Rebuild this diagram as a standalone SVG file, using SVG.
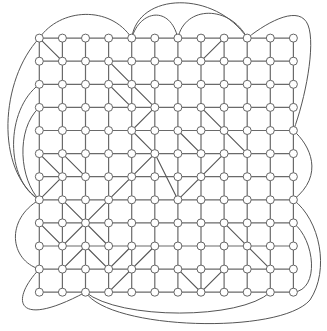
<svg xmlns="http://www.w3.org/2000/svg" width="327" height="331" viewBox="0 0 327 331">
<style>
.g{stroke:#6a6a6a;stroke-width:1.2;fill:none}
.d{stroke:#555;stroke-width:1.1;fill:none}
.c{stroke:#555;stroke-width:1;fill:none}
.n{fill:#fff;stroke:#666;stroke-width:1}
</style>
<rect width="327" height="331" fill="#fff"/>
<g id="connectors">
<g id="grid">
<path class="g" d="M39.3,38.1H293.4M39.3,61.2H293.4M39.3,84.3H293.4M39.3,107.4H293.4M39.3,130.5H293.4M39.3,153.6H293.4M39.3,176.7H293.4M39.3,199.8H293.4M39.3,222.9H293.4M39.3,246H293.4M39.3,269.1H293.4M39.3,292.2H293.4"/>
<path class="g" d="M39.3,38.1V292.2M62.4,38.1V292.2M85.5,38.1V292.2M108.6,38.1V292.2M131.7,38.1V292.2M154.8,38.1V292.2M177.9,38.1V292.2M201,38.1V292.2M224.1,38.1V292.2M247.2,38.1V292.2M270.3,38.1V292.2M293.4,38.1V292.2"/>
</g>
<g id="diagonals">
<path class="d" d="M39.3,38.1L62.4,61.2M108.6,61.2L154.8,107.4M108.6,84.3L131.7,107.4M154.8,107.4L131.7,130.5L154.8,153.6M201,61.2L224.1,38.1M201,107.4L247.2,153.6M177.9,130.5L201,153.6M224.1,153.6L177.9,199.8M154.8,153.6L177.9,199.8M154.8,153.6L85.5,222.9M39.3,153.6L62.4,176.7M62.4,153.6L85.5,176.7M62.4,176.7L39.3,199.8M62.4,199.8L85.5,222.9M39.3,222.9L62.4,246L85.5,222.9L108.6,246M85.5,246L62.4,269.1M85.5,246L108.6,269.1L131.7,246M154.8,246L108.6,292.2M224.1,222.9L270.3,269.1M177.9,269.1L201,292.2L224.1,269.1"/>
</g>
<g id="curves">
<path class="c" d="M39.3,38.1C60,8 110,5 131.7,38.1"/>
<path class="c" d="M131.7,38.1C138,-8 215,-10 247.2,38.1"/>
<path class="c" d="M131.7,38.1C140,10 170,5 177.9,38.1"/>
<path class="c" d="M177.9,38.1C185,5 230,5 247.2,38.1"/>
<path class="c" d="M247.2,38.1C270,20 300,5 308,25C316,45 305,100 293.4,130.5"/>
<path class="c" d="M293.4,130.5C310,145 325,175 293.4,199.8"/>
<path class="c" d="M293.4,222.9C315,240 320,290 293.4,292.2"/>
<path class="c" d="M85.5,292.2C120,320 240,320 270.3,292.2"/>
<path class="c" d="M85.5,292.2C110,330 280,335 310,300C330,270 320,220 293.4,199.8"/>
<path class="c" d="M39.3,38.1C0,80 -5,170 39.3,199.8"/>
<path class="c" d="M39.3,84.3C5,110 5,180 39.3,199.8"/>
<path class="c" d="M39.3,107.4C15,130 20,180 39.3,199.8"/>
<path class="c" d="M39.3,199.8C5,220 10,260 39.3,269.1"/>
<path class="c" d="M39.3,269.1C10,300 15,330 85.5,292.2"/>
</g>
</g>
<g id="nodes">
<g id="r0"><circle class="n" cx="39.3" cy="38.1" r="4"/><circle class="n" cx="62.4" cy="38.1" r="4"/><circle class="n" cx="85.5" cy="38.1" r="4"/><circle class="n" cx="108.6" cy="38.1" r="4"/><circle class="n" cx="131.7" cy="38.1" r="4"/><circle class="n" cx="154.8" cy="38.1" r="4"/><circle class="n" cx="177.9" cy="38.1" r="4"/><circle class="n" cx="201" cy="38.1" r="4"/><circle class="n" cx="224.1" cy="38.1" r="4"/><circle class="n" cx="247.2" cy="38.1" r="4"/><circle class="n" cx="270.3" cy="38.1" r="4"/><circle class="n" cx="293.4" cy="38.1" r="4"/></g>
<g id="r1"><circle class="n" cx="39.3" cy="61.2" r="4"/><circle class="n" cx="62.4" cy="61.2" r="4"/><circle class="n" cx="85.5" cy="61.2" r="4"/><circle class="n" cx="108.6" cy="61.2" r="4"/><circle class="n" cx="131.7" cy="61.2" r="4"/><circle class="n" cx="154.8" cy="61.2" r="4"/><circle class="n" cx="177.9" cy="61.2" r="4"/><circle class="n" cx="201" cy="61.2" r="4"/><circle class="n" cx="224.1" cy="61.2" r="4"/><circle class="n" cx="247.2" cy="61.2" r="4"/><circle class="n" cx="270.3" cy="61.2" r="4"/><circle class="n" cx="293.4" cy="61.2" r="4"/></g>
<g id="r2"><circle class="n" cx="39.3" cy="84.3" r="4"/><circle class="n" cx="62.4" cy="84.3" r="4"/><circle class="n" cx="85.5" cy="84.3" r="4"/><circle class="n" cx="108.6" cy="84.3" r="4"/><circle class="n" cx="131.7" cy="84.3" r="4"/><circle class="n" cx="154.8" cy="84.3" r="4"/><circle class="n" cx="177.9" cy="84.3" r="4"/><circle class="n" cx="201" cy="84.3" r="4"/><circle class="n" cx="224.1" cy="84.3" r="4"/><circle class="n" cx="247.2" cy="84.3" r="4"/><circle class="n" cx="270.3" cy="84.3" r="4"/><circle class="n" cx="293.4" cy="84.3" r="4"/></g>
<g id="r3"><circle class="n" cx="39.3" cy="107.4" r="4"/><circle class="n" cx="62.4" cy="107.4" r="4"/><circle class="n" cx="85.5" cy="107.4" r="4"/><circle class="n" cx="108.6" cy="107.4" r="4"/><circle class="n" cx="131.7" cy="107.4" r="4"/><circle class="n" cx="154.8" cy="107.4" r="4"/><circle class="n" cx="177.9" cy="107.4" r="4"/><circle class="n" cx="201" cy="107.4" r="4"/><circle class="n" cx="224.1" cy="107.4" r="4"/><circle class="n" cx="247.2" cy="107.4" r="4"/><circle class="n" cx="270.3" cy="107.4" r="4"/><circle class="n" cx="293.4" cy="107.4" r="4"/></g>
<g id="r4"><circle class="n" cx="39.3" cy="130.5" r="4"/><circle class="n" cx="62.4" cy="130.5" r="4"/><circle class="n" cx="85.5" cy="130.5" r="4"/><circle class="n" cx="108.6" cy="130.5" r="4"/><circle class="n" cx="131.7" cy="130.5" r="4"/><circle class="n" cx="154.8" cy="130.5" r="4"/><circle class="n" cx="177.9" cy="130.5" r="4"/><circle class="n" cx="201" cy="130.5" r="4"/><circle class="n" cx="224.1" cy="130.5" r="4"/><circle class="n" cx="247.2" cy="130.5" r="4"/><circle class="n" cx="270.3" cy="130.5" r="4"/><circle class="n" cx="293.4" cy="130.5" r="4"/></g>
<g id="r5"><circle class="n" cx="39.3" cy="153.6" r="4"/><circle class="n" cx="62.4" cy="153.6" r="4"/><circle class="n" cx="85.5" cy="153.6" r="4"/><circle class="n" cx="108.6" cy="153.6" r="4"/><circle class="n" cx="131.7" cy="153.6" r="4"/><circle class="n" cx="154.8" cy="153.6" r="4"/><circle class="n" cx="177.9" cy="153.6" r="4"/><circle class="n" cx="201" cy="153.6" r="4"/><circle class="n" cx="224.1" cy="153.6" r="4"/><circle class="n" cx="247.2" cy="153.6" r="4"/><circle class="n" cx="270.3" cy="153.6" r="4"/><circle class="n" cx="293.4" cy="153.6" r="4"/></g>
<g id="r6"><circle class="n" cx="39.3" cy="176.7" r="4"/><circle class="n" cx="62.4" cy="176.7" r="4"/><circle class="n" cx="85.5" cy="176.7" r="4"/><circle class="n" cx="108.6" cy="176.7" r="4"/><circle class="n" cx="131.7" cy="176.7" r="4"/><circle class="n" cx="154.8" cy="176.7" r="4"/><circle class="n" cx="177.9" cy="176.7" r="4"/><circle class="n" cx="201" cy="176.7" r="4"/><circle class="n" cx="224.1" cy="176.7" r="4"/><circle class="n" cx="247.2" cy="176.7" r="4"/><circle class="n" cx="270.3" cy="176.7" r="4"/><circle class="n" cx="293.4" cy="176.7" r="4"/></g>
<g id="r7"><circle class="n" cx="39.3" cy="199.8" r="4"/><circle class="n" cx="62.4" cy="199.8" r="4"/><circle class="n" cx="85.5" cy="199.8" r="4"/><circle class="n" cx="108.6" cy="199.8" r="4"/><circle class="n" cx="131.7" cy="199.8" r="4"/><circle class="n" cx="154.8" cy="199.8" r="4"/><circle class="n" cx="177.9" cy="199.8" r="4"/><circle class="n" cx="201" cy="199.8" r="4"/><circle class="n" cx="224.1" cy="199.8" r="4"/><circle class="n" cx="247.2" cy="199.8" r="4"/><circle class="n" cx="270.3" cy="199.8" r="4"/><circle class="n" cx="293.4" cy="199.8" r="4"/></g>
<g id="r8"><circle class="n" cx="39.3" cy="222.9" r="4"/><circle class="n" cx="62.4" cy="222.9" r="4"/><circle class="n" cx="85.5" cy="222.9" r="4"/><circle class="n" cx="108.6" cy="222.9" r="4"/><circle class="n" cx="131.7" cy="222.9" r="4"/><circle class="n" cx="154.8" cy="222.9" r="4"/><circle class="n" cx="177.9" cy="222.9" r="4"/><circle class="n" cx="201" cy="222.9" r="4"/><circle class="n" cx="224.1" cy="222.9" r="4"/><circle class="n" cx="247.2" cy="222.9" r="4"/><circle class="n" cx="270.3" cy="222.9" r="4"/><circle class="n" cx="293.4" cy="222.9" r="4"/></g>
<g id="r9"><circle class="n" cx="39.3" cy="246" r="4"/><circle class="n" cx="62.4" cy="246" r="4"/><circle class="n" cx="85.5" cy="246" r="4"/><circle class="n" cx="108.6" cy="246" r="4"/><circle class="n" cx="131.7" cy="246" r="4"/><circle class="n" cx="154.8" cy="246" r="4"/><circle class="n" cx="177.9" cy="246" r="4"/><circle class="n" cx="201" cy="246" r="4"/><circle class="n" cx="224.1" cy="246" r="4"/><circle class="n" cx="247.2" cy="246" r="4"/><circle class="n" cx="270.3" cy="246" r="4"/><circle class="n" cx="293.4" cy="246" r="4"/></g>
<g id="r10"><circle class="n" cx="39.3" cy="269.1" r="4"/><circle class="n" cx="62.4" cy="269.1" r="4"/><circle class="n" cx="85.5" cy="269.1" r="4"/><circle class="n" cx="108.6" cy="269.1" r="4"/><circle class="n" cx="131.7" cy="269.1" r="4"/><circle class="n" cx="154.8" cy="269.1" r="4"/><circle class="n" cx="177.9" cy="269.1" r="4"/><circle class="n" cx="201" cy="269.1" r="4"/><circle class="n" cx="224.1" cy="269.1" r="4"/><circle class="n" cx="247.2" cy="269.1" r="4"/><circle class="n" cx="270.3" cy="269.1" r="4"/><circle class="n" cx="293.4" cy="269.1" r="4"/></g>
<g id="r11"><circle class="n" cx="39.3" cy="292.2" r="4"/><circle class="n" cx="62.4" cy="292.2" r="4"/><circle class="n" cx="85.5" cy="292.2" r="4"/><circle class="n" cx="108.6" cy="292.2" r="4"/><circle class="n" cx="131.7" cy="292.2" r="4"/><circle class="n" cx="154.8" cy="292.2" r="4"/><circle class="n" cx="177.9" cy="292.2" r="4"/><circle class="n" cx="201" cy="292.2" r="4"/><circle class="n" cx="224.1" cy="292.2" r="4"/><circle class="n" cx="247.2" cy="292.2" r="4"/><circle class="n" cx="270.3" cy="292.2" r="4"/><circle class="n" cx="293.4" cy="292.2" r="4"/></g>
</g>
</svg>
